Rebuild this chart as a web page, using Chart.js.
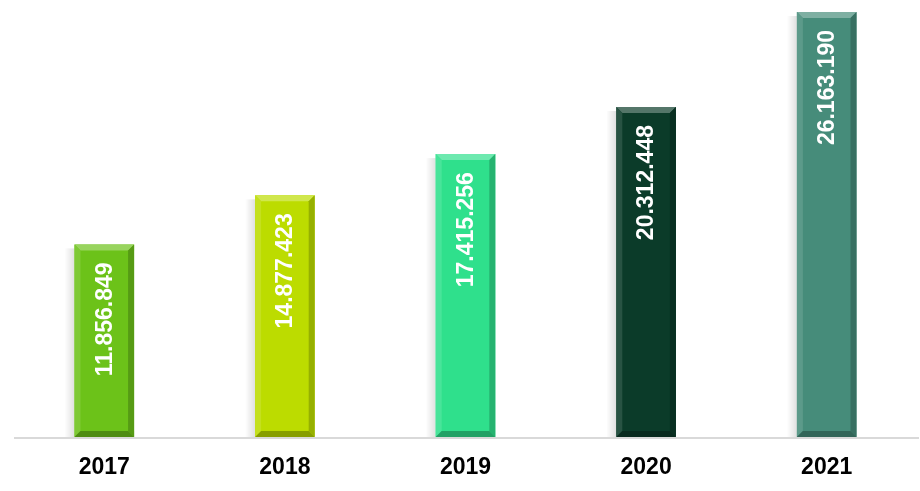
<!DOCTYPE html>
<html>
<head>
<meta charset="utf-8">
<script src="https://cdn.jsdelivr.net/npm/chart.js@4.4.1/dist/chart.umd.min.js"></script>
<style>
  html, body { margin: 0; padding: 0; background: #fff; }
  #wrap { width: 920px; height: 491px; }
</style>
</head>
<body>
<div id="wrap"><canvas id="myChart"></canvas></div>
<script>
// Yearly totals, one bar per year
const years = ['2017', '2018', '2019', '2020', '2021'];
const totals = [11856849, 14877423, 17415256, 20312448, 26163190];
const valueLabels = ['11.856.849', '14.877.423', '17.415.256', '20.312.448', '26.163.190'];
const barColors = ['#6cc219', '#bcdc00', '#2fe08c', '#0b3b29', '#468c7a'];

// shade a hex colour: amt > 0 lighter, < 0 darker
function shade(hex, amt) {
  const n = parseInt(hex.slice(1), 16);
  let r = n >> 16, g = (n >> 8) & 255, b = n & 255;
  const f = c => Math.round(amt >= 0 ? c + (255 - c) * amt : c * (1 + amt));
  return 'rgb(' + f(r) + ',' + f(g) + ',' + f(b) + ')';
}

// bevel edges + baseline + rotated value labels
const bevelPlugin = {
  id: 'bevel',
  beforeDatasetsDraw(chart) {
    const ctx = chart.ctx, a = chart.chartArea;
    ctx.save();
    ctx.strokeStyle = '#d9d9d9';
    ctx.lineWidth = 2;
    ctx.beginPath();
    ctx.moveTo(a.left, a.bottom + 1);
    ctx.lineTo(a.right + 2, a.bottom + 1);
    ctx.stroke();
    // soft shadow left of bars
    chart.getDatasetMeta(0).data.forEach(bar => {
      const l = bar.x - bar.width / 2;
      const g = ctx.createLinearGradient(l - 10, 0, l, 0);
      g.addColorStop(0, 'rgba(0,0,0,0)');
      g.addColorStop(1, 'rgba(0,0,0,0.12)');
      ctx.fillStyle = g;
      ctx.fillRect(l - 10, bar.y + 4, 10, bar.base - bar.y - 4);
    });
    ctx.restore();
  },
  afterDatasetsDraw(chart) {
    const ctx = chart.ctx;
    const meta = chart.getDatasetMeta(0);
    ctx.save();
    meta.data.forEach((bar, i) => {
      const l = bar.x - bar.width / 2, r = bar.x + bar.width / 2;
      const t = bar.y, b = bar.base;
      const e = 6;
      const col = barColors[i];
      // top edge
      ctx.fillStyle = shade(col, 0.3);
      ctx.beginPath();
      ctx.moveTo(l, t); ctx.lineTo(r, t); ctx.lineTo(r - e, t + e); ctx.lineTo(l + e, t + e);
      ctx.closePath(); ctx.fill();
      // left edge
      ctx.fillStyle = shade(col, 0.12);
      ctx.beginPath();
      ctx.moveTo(l, t); ctx.lineTo(l + e, t + e); ctx.lineTo(l + e, b - e); ctx.lineTo(l, b);
      ctx.closePath(); ctx.fill();
      // right edge
      ctx.fillStyle = shade(col, -0.2);
      ctx.beginPath();
      ctx.moveTo(r, t); ctx.lineTo(r - e, t + e); ctx.lineTo(r - e, b - e); ctx.lineTo(r, b);
      ctx.closePath(); ctx.fill();
      // bottom edge
      ctx.fillStyle = shade(col, -0.28);
      ctx.beginPath();
      ctx.moveTo(l, b); ctx.lineTo(r, b); ctx.lineTo(r - e, b - e); ctx.lineTo(l + e, b - e);
      ctx.closePath(); ctx.fill();
      // value label
      ctx.save();
      ctx.translate(bar.x, t + 18);
      ctx.rotate(-Math.PI / 2);
      ctx.fillStyle = '#ffffff';
      ctx.font = 'bold 23px "Liberation Sans", Arial, sans-serif';
      ctx.textAlign = 'right';
      ctx.textBaseline = 'middle';
      ctx.fillText(valueLabels[i], 0, 1);
      ctx.restore();
    });
    ctx.restore();
  }
};

const config = {
  type: 'bar',
  data: {
    labels: years,
    datasets: [{
      data: totals,
      backgroundColor: barColors,
      borderWidth: 0,
      barPercentage: 0.33,
      categoryPercentage: 1.0,
    }]
  },
  options: {
    responsive: true,
    maintainAspectRatio: false,
    animation: false,
    layout: { padding: { left: 14, right: 3, top: 12, bottom: 10 } },
    plugins: {
      legend: { display: false },
      tooltip: { enabled: false },
    },
    scales: {
      x: {
        grid: { display: false, drawTicks: false },
        border: { display: false },
        afterFit(scale) { scale.height = 44; },
        ticks: {
          color: '#000',
          padding: 17,
          maxRotation: 0,
          font: { family: '"Liberation Sans Narrow", "Liberation Sans", Arial, sans-serif', size: 23, weight: 'bold' },
        }
      },
      y: {
        display: false,
        min: 0,
        max: 26163190,
      }
    }
  },
  plugins: [bevelPlugin]
};

const ctx = document.getElementById('myChart').getContext('2d');
new Chart(ctx, config);
</script>
</body>
</html>
